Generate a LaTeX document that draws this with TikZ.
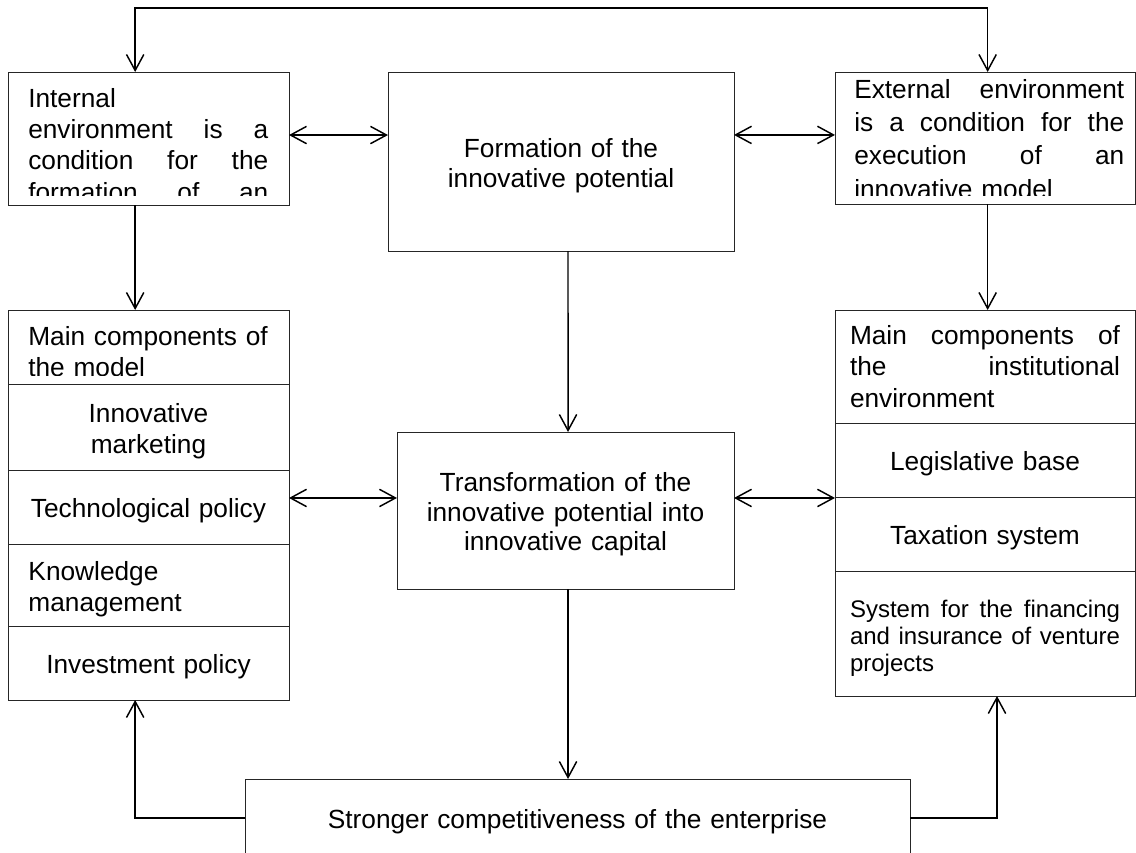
\documentclass[tikz,border=0pt]{standalone}
\usepackage{fontspec}
\setmainfont{Liberation Sans}
\usetikzlibrary{arrows.meta}

\begin{document}
\begin{tikzpicture}[x=0.75pt, y=-0.75pt,
  box/.style={draw=black!85, line width=0.75pt, anchor=north west, inner sep=0pt, outer sep=0pt},
  txt/.style={font=\fontsize{19.7}{23.6}\selectfont},
  low/.style={execute at begin node={\rule{0pt}{20.4pt}}},
  lrow/.style={box, txt, low, text width=180pt, minimum width=210.75pt},
  rrow/.style={box, txt, low, text width=202.5pt, minimum width=225pt},
  link/.style={line width=1.1pt, -{Straight Barb[length=12pt,width=13pt]}},
  both/.style={line width=1.1pt, {Straight Barb[length=12pt,width=13pt]}-{Straight Barb[length=12pt,width=13pt]}}]
  \useasboundingbox (0,0) rectangle (1136,853);

  % top row
  \node[box, minimum width=210.75pt, minimum height=99.75pt] (intl) at (8,72) {};
  \node[box, txt, low, align=center, text width=259.5pt, minimum height=134.25pt,
    font=\fontsize{19.7}{22.5}\selectfont] (form) at (388,72)
    {Formation of the\\ innovative potential};
  \node[box, minimum width=225pt, minimum height=99pt] (extl) at (835,72) {};

  % texts cut off by their boxes
  \begin{scope}
    \clip (intl.north west) rectangle ([yshift=7.5pt]intl.south east);
    \node[txt, text width=180pt, align=left, anchor=base west, inner sep=0pt] (intltext) at (28,107)
      {Internal\\ environment \hfill is \hfill a\\ condition \hfill for \hfill the\\ formation \hfill of \hfill an};
  \end{scope}
  \begin{scope}
    \clip (extl.north west) rectangle ([yshift=6.75pt]extl.south east);
    \node[txt, text width=202.5pt, align=left, anchor=base west, inner sep=0pt,
      font=\fontsize{19.7}{25}\selectfont] (extltext) at (854,98)
      {External \hfill environment\\ is \hfill a \hfill condition \hfill for \hfill the\\ execution \hfill of \hfill an\\ innovative model};
  \end{scope}

  % left column
  \node[lrow, minimum height=55.5pt] (comp1) at (8,310) {};
  \node[lrow, minimum height=64.5pt, align=center] (mark) at (comp1.south west) {Innovative\\ marketing};
  \node[lrow, minimum height=55.5pt, align=center] (tech) at (mark.south west) {Technological policy};
  \node[lrow, minimum height=61.5pt, align=left] (know) at (tech.south west) {Knowledge\\ management};
  \node[lrow, minimum height=55.5pt, align=center] (inv) at (know.south west) {Investment policy};
  \begin{scope}
    \clip (comp1.north west) rectangle ([yshift=6.75pt]comp1.south east);
    \node[txt, text width=180pt, align=left, anchor=base west, inner sep=0pt] (comp1text) at (28,345)
      {Main components of\\ the model};
  \end{scope}

  % right column
  \node[box, txt, text width=202.5pt, minimum width=225pt, minimum height=84.75pt, align=left] (inst) at (835,310)
    {Main \hfill components \hfill of\\ the \hfill institutional\\ environment};
  \node[rrow, minimum height=55.5pt, align=center] (legal) at (inst.south west) {Legislative base};
  \node[rrow, minimum height=55.5pt, align=center] (tax) at (legal.south west) {Taxation system};
  \node[rrow, minimum height=93.75pt, align=left, font=\fontsize{18}{20.25}\selectfont] (fin) at (tax.south west)
    {System \hfill for \hfill the \hfill financing\\ and \hfill insurance \hfill of \hfill venture\\ projects};

  % middle
  \node[box, txt, low, align=center, text width=252.75pt, minimum height=117.75pt,
    font=\fontsize{19.7}{22.2}\selectfont] (trans) at (397,432)
    {Transformation of the\\ innovative potential into\\ innovative capital};
  \node[box, txt, low, align=center, text width=498.75pt, minimum height=58.5pt] (bot) at (245,779)
    {Stronger competitiveness of the enterprise};

  % connectors
  \draw[both] ([xshift=-10pt]intl.north) -- ++(0,-64) -| ([xshift=2pt]extl.north);
  \coordinate (ta) at ([yshift=2.6pt]intl.east);
  \draw[both] (ta) -- (ta -| form.west);
  \coordinate (tb) at ([yshift=2.3pt]extl.west);
  \draw[both] (tb -| form.east) -- (tb);
  \draw[link] ([xshift=-10pt]intl.south) -- ([xshift=-10pt]comp1.north);
  \draw[link] ([xshift=2pt]extl.south) -- ([xshift=2pt]inst.north);
  \draw[link] ([xshift=5.25pt]form.south) -- ([xshift=1.9pt]trans.north);
  \coordinate (ma) at ([yshift=9.4pt]trans.west);
  \draw[both] (ma -| tech.east) -- (ma);
  \draw[both] (ma -| trans.east) -- (ma -| tax.west);
  \draw[link] ([xshift=1.9pt]trans.south) -- ([xshift=-7.1pt]bot.north);
  \draw[link] (bot.west) -| ([xshift=-10pt]inv.south);
  \draw[link] (bot.east) -| ([xshift=9pt]fin.south);
\end{tikzpicture}
\end{document}
